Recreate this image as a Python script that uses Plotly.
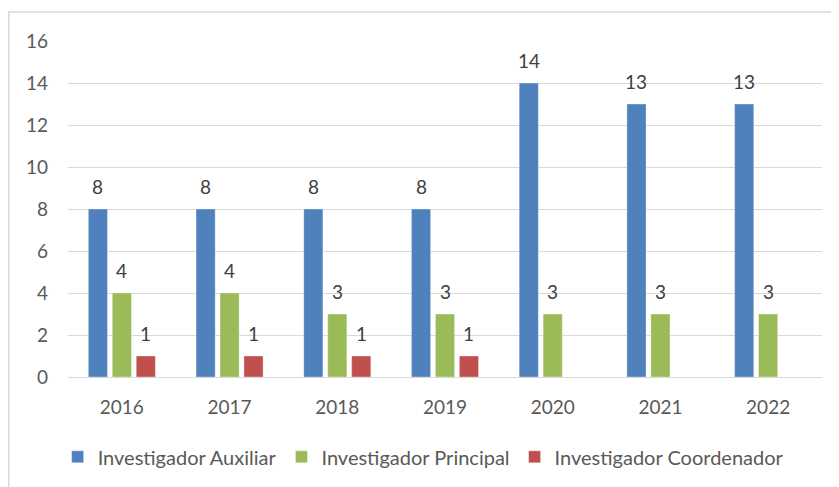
import plotly.graph_objects as go

years = ["2016", "2017", "2018", "2019", "2020", "2021", "2022"]
auxiliar = [8, 8, 8, 8, 14, 13, 13]
principal = [4, 4, 3, 3, 3, 3, 3]
coordenador = [1, 1, 1, 1, None, None, None]
series_names = ["Investigador Auxiliar", "Investigador Principal", "Investigador Coordenador"]
colors = ["#4F81BD", "#9BBB59", "#C0504D"]
y_ticks = [0, 2, 4, 6, 8, 10, 12, 14, 16]

# page body has an 8px margin; size the figure so the visible layout matches
W, H = 831, 479
L, R, T, B = 60, 17, 33, 109
plot_w = W - L - R
plot_h = H - T - B
cat_w = plot_w / len(years)
bargap = 0.333
bargroupgap = 0.2
slot = cat_w * (1 - bargap) / 3
FS = 19
FONT = "Lato, Open Sans, sans-serif"

fig = go.Figure()
all_series = [auxiliar, principal, coordenador]
for i, (name, vals, c) in enumerate(zip(series_names, all_series, colors)):
    fig.add_trace(go.Bar(
        x=years, y=vals, name=name,
        marker=dict(color=c, line=dict(color="rgba(255,255,255,0.35)", width=1)),
    ))
    offset = (i - 1) * slot
    for j, v in enumerate(vals):
        if v is None:
            continue
        fig.add_annotation(
            x=j, y=v, text=str(v), showarrow=False,
            xshift=offset, yshift=9, yanchor="bottom",
            font=dict(family=FONT, size=FS, color="#404040"),
        )

fig.update_layout(
    width=W, height=H,
    margin=dict(l=L, r=R, t=T, b=B),
    paper_bgcolor="white", plot_bgcolor="white",
    barmode="group", bargap=bargap, bargroupgap=bargroupgap,
    font=dict(family=FONT, size=FS, color="#595959"),
    showlegend=True,
    legend=dict(
        orientation="h", x=0.471, xanchor="center", y=-0.234, yanchor="middle",
        font=dict(size=20, color="#595959"), itemwidth=30,
    ),
    xaxis=dict(
        type="category", range=[-0.5, len(years) - 0.5],
        showgrid=False, showline=False, zeroline=False,
        ticks="", ticklabelstandoff=17,
        tickfont=dict(size=FS, color="#595959"),
    ),
    yaxis=dict(
        range=[0, 16], tickvals=y_ticks, showgrid=True, gridcolor="#D9D9D9", gridwidth=1,
        zeroline=True, zerolinecolor="#D9D9D9", zerolinewidth=1, showline=False,
        ticks="", ticklabelstandoff=19,
        tickfont=dict(size=FS, color="#595959"),
    ),
    shapes=[
        dict(type="line", xref="paper", yref="paper",
             x0=(0 - L) / plot_w, x1=(W + 5 - L) / plot_w,
             y0=(H - B - 4) / plot_h, y1=(H - B - 4) / plot_h,
             line=dict(color="#D9D9D9", width=1.5)),
        dict(type="line", xref="paper", yref="paper",
             x0=(0.75 - L) / plot_w, x1=(0.75 - L) / plot_w,
             y0=(H - B - 4) / plot_h, y1=-0.5,
             line=dict(color="#D9D9D9", width=1.5)),
    ],
)

fig.write_html("out.html")
